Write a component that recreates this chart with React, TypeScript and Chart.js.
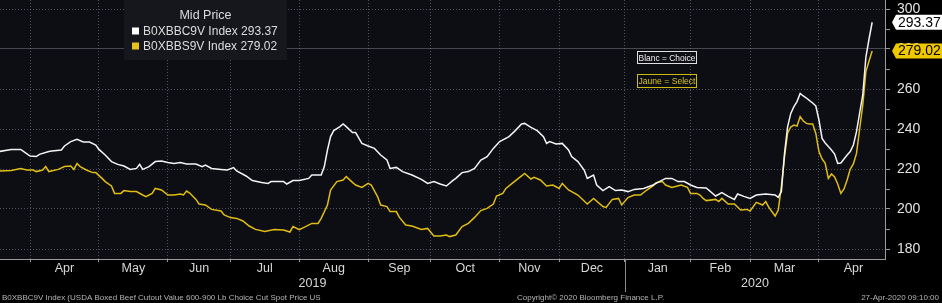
import React, { useEffect, useRef } from 'react';
import { Chart, registerables } from 'chart.js';

Chart.register(...registerables);

// ---------- calendar (trading days; USDA does not report on these holidays) ----------
const holidays = [
  '2019-05-27', '2019-07-04', '2019-09-02', '2019-10-14', '2019-11-11',
  '2019-11-28', '2019-12-25', '2020-01-01', '2020-01-20', '2020-02-17',
];
const monthStarts = [
  '2019-04-01', '2019-05-01', '2019-06-01', '2019-07-01', '2019-08-01', '2019-09-01',
  '2019-10-01', '2019-11-01', '2019-12-01', '2020-01-01', '2020-02-01', '2020-03-01', '2020-04-01',
];
const monthLabels = ['Apr', 'May', 'Jun', 'Jul', 'Aug', 'Sep', 'Oct', 'Nov', 'Dec', 'Jan', 'Feb', 'Mar', 'Apr'];
const axisEndDate = '2020-05-01';
const yearLabels = ['2019', '2020'];
const yearStart2020 = '2020-01-01';
const yTicks = [180, 190, 200, 210, 220, 230, 240, 250, 260, 270, 280, 290, 300];

// ---------- series: Choice (white) ----------
const choiceDates = [
  '2019-03-18', '2019-03-22', '2019-03-27', '2019-03-28', '2019-04-01', '2019-04-03', '2019-04-04', '2019-04-09',
  '2019-04-10', '2019-04-15', '2019-04-16', '2019-04-18', '2019-04-22', '2019-04-24', '2019-04-26', '2019-04-30',
  '2019-05-01', '2019-05-03', '2019-05-07', '2019-05-09', '2019-05-13', '2019-05-15', '2019-05-17', '2019-05-20',
  '2019-05-21', '2019-05-23', '2019-05-28', '2019-05-30', '2019-06-03', '2019-06-05', '2019-06-07', '2019-06-11',
  '2019-06-14', '2019-06-18', '2019-06-19', '2019-06-21', '2019-06-26', '2019-06-28', '2019-07-02', '2019-07-03',
  '2019-07-09', '2019-07-11', '2019-07-16', '2019-07-18', '2019-07-19', '2019-07-25', '2019-07-26', '2019-07-30',
  '2019-08-01', '2019-08-06', '2019-08-07', '2019-08-12', '2019-08-13', '2019-08-14', '2019-08-15', '2019-08-16',
  '2019-08-20', '2019-08-21', '2019-08-22', '2019-08-26', '2019-08-27', '2019-08-29', '2019-09-03', '2019-09-05',
  '2019-09-09', '2019-09-11', '2019-09-12', '2019-09-16', '2019-09-18', '2019-09-23', '2019-09-26', '2019-09-30',
  '2019-10-02', '2019-10-04', '2019-10-08', '2019-10-10', '2019-10-11', '2019-10-16', '2019-10-18', '2019-10-22',
  '2019-10-24', '2019-10-28', '2019-10-30', '2019-11-01', '2019-11-06', '2019-11-08', '2019-11-13', '2019-11-14',
  '2019-11-18', '2019-11-20', '2019-11-22', '2019-11-25', '2019-11-26', '2019-11-29', '2019-12-03', '2019-12-05',
  '2019-12-06', '2019-12-10', '2019-12-12', '2019-12-13', '2019-12-17', '2019-12-18', '2019-12-20', '2019-12-24',
  '2019-12-27', '2019-12-31', '2020-01-03', '2020-01-07', '2020-01-10', '2020-01-15', '2020-01-17', '2020-01-22',
  '2020-01-24', '2020-01-28', '2020-01-30', '2020-02-03', '2020-02-05', '2020-02-10', '2020-02-13', '2020-02-18',
  '2020-02-20', '2020-02-24', '2020-02-25', '2020-02-27', '2020-03-02', '2020-03-04', '2020-03-09', '2020-03-12',
  '2020-03-13', '2020-03-16', '2020-03-17', '2020-03-18', '2020-03-19', '2020-03-20', '2020-03-23', '2020-03-24',
  '2020-03-25', '2020-03-26', '2020-03-27', '2020-03-30', '2020-03-31', '2020-04-01', '2020-04-02', '2020-04-03',
  '2020-04-06', '2020-04-07', '2020-04-08', '2020-04-09', '2020-04-10', '2020-04-13', '2020-04-14', '2020-04-15',
  '2020-04-16', '2020-04-17', '2020-04-20', '2020-04-21', '2020-04-22', '2020-04-23', '2020-04-24',
];
const choiceValues = [
  228.7, 229.8, 229.8, 228.7, 226.5, 226.2, 227.3, 228.7,
  229.0, 229.5, 231.5, 233.7, 234.8, 233.5, 233.5, 232.0,
  229.8, 227.0, 223.7, 222.3, 221.5, 219.8, 220.3, 222.3,
  219.8, 221.2, 223.7, 224.0, 223.2, 222.8, 223.2, 222.5,
  222.5, 221.2, 222.0, 220.3, 219.8, 219.5, 220.7, 219.0,
  216.5, 214.2, 213.3, 212.8, 213.7, 213.7, 212.5, 214.2,
  214.2, 215.3, 217.0, 217.0, 221.2, 229.5, 236.2, 239.2,
  241.2, 242.5, 241.2, 238.2, 238.2, 232.8, 231.5, 230.3,
  227.0, 224.5, 220.3, 220.8, 218.7, 217.0, 214.8, 212.8,
  213.7, 212.5, 211.5, 214.2, 215.3, 218.2, 218.7, 220.3,
  224.5, 226.2, 230.3, 233.7, 236.2, 239.2, 242.5, 242.8,
  240.8, 239.2, 236.2, 232.8, 233.7, 232.5, 232.8, 229.5,
  226.2, 223.7, 219.5, 215.3, 217.0, 212.0, 209.2, 211.2,
  209.2, 209.5, 208.7, 209.8, 210.3, 212.0, 213.7, 215.3,
  215.3, 213.7, 213.7, 212.0, 210.8, 210.5, 206.5, 208.2,
  206.3, 204.8, 207.5, 206.3, 205.3, 207.0, 207.5, 207.0,
  205.8, 208.7, 227.8, 241.2, 247.8, 251.2, 253.7, 257.8,
  256.5, 255.5, 254.2, 253.0, 251.5, 244.5, 235.3, 233.0,
  231.2, 229.5, 227.5, 222.8, 223.0, 225.0, 227.0, 228.7,
  232.0, 238.7, 248.0, 257.0, 276.0, 285.0, 293.37,
];

// ---------- series: Select (yellow) ----------
const selectDates = [
  '2019-03-18', '2019-03-22', '2019-03-27', '2019-03-29', '2019-04-02', '2019-04-03', '2019-04-05', '2019-04-08',
  '2019-04-09', '2019-04-12', '2019-04-16', '2019-04-18', '2019-04-19', '2019-04-22', '2019-04-23', '2019-04-25',
  '2019-04-29', '2019-04-30', '2019-05-02', '2019-05-03', '2019-05-07', '2019-05-08', '2019-05-10', '2019-05-13',
  '2019-05-15', '2019-05-17', '2019-05-21', '2019-05-22', '2019-05-24', '2019-05-28', '2019-05-30', '2019-06-03',
  '2019-06-05', '2019-06-07', '2019-06-10', '2019-06-11', '2019-06-12', '2019-06-14', '2019-06-17', '2019-06-19',
  '2019-06-21', '2019-06-26', '2019-06-27', '2019-07-01', '2019-07-03', '2019-07-08', '2019-07-10', '2019-07-12',
  '2019-07-17', '2019-07-22', '2019-07-25', '2019-07-29', '2019-07-30', '2019-08-01', '2019-08-05', '2019-08-07',
  '2019-08-09', '2019-08-12', '2019-08-14', '2019-08-15', '2019-08-19', '2019-08-21', '2019-08-22', '2019-08-26',
  '2019-08-27', '2019-08-29', '2019-09-03', '2019-09-04', '2019-09-06', '2019-09-09', '2019-09-11', '2019-09-12',
  '2019-09-16', '2019-09-17', '2019-09-19', '2019-09-23', '2019-09-26', '2019-09-30', '2019-10-02', '2019-10-04',
  '2019-10-08', '2019-10-09', '2019-10-11', '2019-10-16', '2019-10-18', '2019-10-22', '2019-10-24', '2019-10-28',
  '2019-10-30', '2019-10-31', '2019-11-04', '2019-11-05', '2019-11-07', '2019-11-12', '2019-11-14', '2019-11-18',
  '2019-11-19', '2019-11-21', '2019-11-25', '2019-11-27', '2019-12-02', '2019-12-03', '2019-12-05', '2019-12-10',
  '2019-12-13', '2019-12-17', '2019-12-20', '2019-12-23', '2019-12-26', '2019-12-30', '2019-12-31', '2020-01-03',
  '2020-01-07', '2020-01-09', '2020-01-13', '2020-01-15', '2020-01-16', '2020-01-21', '2020-01-22', '2020-01-24',
  '2020-01-29', '2020-01-31', '2020-02-03', '2020-02-05', '2020-02-06', '2020-02-07', '2020-02-10', '2020-02-13',
  '2020-02-14', '2020-02-18', '2020-02-20', '2020-02-24', '2020-02-26', '2020-02-28', '2020-03-02', '2020-03-04',
  '2020-03-06', '2020-03-09', '2020-03-10', '2020-03-12', '2020-03-13', '2020-03-16', '2020-03-17', '2020-03-18',
  '2020-03-19', '2020-03-20', '2020-03-23', '2020-03-24', '2020-03-25', '2020-03-26', '2020-03-27', '2020-03-30',
  '2020-03-31', '2020-04-01', '2020-04-02', '2020-04-03', '2020-04-06', '2020-04-07', '2020-04-08', '2020-04-09',
  '2020-04-10', '2020-04-13', '2020-04-14', '2020-04-15', '2020-04-16', '2020-04-17', '2020-04-20', '2020-04-21',
  '2020-04-22', '2020-04-23', '2020-04-24',
];
const selectValues = [
  219.0, 219.2, 220.3, 219.5, 219.5, 218.7, 219.5, 221.2,
  218.7, 219.8, 221.2, 221.5, 219.8, 222.8, 221.2, 219.5,
  218.2, 218.2, 215.3, 213.7, 211.5, 207.8, 207.8, 209.2,
  208.7, 208.7, 207.0, 206.2, 207.8, 210.3, 209.5, 207.0,
  207.0, 207.5, 207.0, 209.0, 208.0, 204.8, 202.5, 202.0,
  199.8, 199.0, 197.0, 195.7, 195.3, 194.0, 191.5, 189.8,
  188.7, 189.8, 189.5, 188.5, 191.2, 189.7, 191.2, 192.8,
  192.8, 195.3, 202.0, 209.5, 213.7, 214.5, 216.2, 213.3,
  212.0, 210.8, 212.8, 212.0, 206.2, 202.0, 201.2, 198.7,
  198.7, 195.8, 192.0, 191.5, 189.8, 190.3, 186.5, 186.5,
  187.0, 186.2, 187.0, 191.2, 192.8, 195.8, 199.2, 200.3,
  202.5, 206.5, 207.8, 210.3, 212.8, 215.3, 217.8, 215.0,
  215.8, 214.5, 211.5, 212.0, 210.3, 212.8, 209.5, 207.0,
  202.5, 205.3, 201.2, 200.8, 204.8, 205.3, 202.0, 205.7,
  207.0, 207.0, 209.5, 211.5, 213.2, 213.7, 212.0, 210.8,
  212.0, 210.8, 207.8, 207.8, 207.0, 205.3, 204.2, 204.8,
  203.7, 205.3, 202.5, 202.5, 199.5, 199.8, 199.0, 203.3,
  202.0, 203.7, 200.8, 196.5, 199.5, 211.2, 226.0, 238.0,
  241.0, 242.0, 241.5, 246.2, 244.0, 242.8, 242.5, 242.5,
  237.8, 228.7, 225.0, 222.8, 215.3, 217.5, 216.0, 212.5,
  207.8, 210.0, 214.5, 220.0, 222.5, 227.8, 240.0, 252.0,
  268.7, 274.0, 279.02,
];

// ---------- helpers ----------
function buildTradingDays(start: string, end: string): string[] {
  const out: string[] = [];
  const d = new Date(start + 'T00:00:00Z');
  const e = new Date(end + 'T00:00:00Z');
  while (d <= e) {
    const wd = d.getUTCDay();
    const key = d.toISOString().slice(0, 10);
    if (wd !== 0 && wd !== 6 && !holidays.includes(key)) out.push(key);
    d.setUTCDate(d.getUTCDate() + 1);
  }
  return out;
}
const tradingDays = buildTradingDays('2019-03-01', '2020-05-31');
const baseIdx = tradingDays.indexOf('2019-04-01');
function tIndex(date: string): number {
  const i = tradingDays.findIndex((k) => k >= date);
  return i - baseIdx;
}

const X_MIN = -9.6;
const X_MAX = 273.1;
const Y_MIN = 175;
const Y_MAX = 304.5;

const WHITE = '#f4f4f4';
const YELLOW = '#e0bd12';
const FONT = '"Liberation Sans", Arial, sans-serif';

const overlayPlugin = {
  id: 'bbgOverlay',
  beforeDraw(chart: any) {
    const { ctx, chartArea: a, width, height } = chart;
    ctx.save();
    ctx.fillStyle = '#000000';
    ctx.fillRect(0, 0, width, height);
    ctx.fillStyle = '#0d0d14';
    ctx.fillRect(a.left, a.top, a.right - a.left, a.bottom - a.top);
    ctx.restore();
  },
  afterDraw(chart: any) {
    const { ctx, chartArea: a, scales, width, height } = chart;
    const xs = scales.x;
    const ys = scales.y;
    ctx.save();

    // month labels
    ctx.font = `12.5px ${FONT}`;
    ctx.fillStyle = '#d8d8d8';
    ctx.textAlign = 'center';
    ctx.textBaseline = 'middle';
    monthLabels.forEach((m, i) => {
      const s = tIndex(monthStarts[i]);
      const e = tIndex(i + 1 < monthStarts.length ? monthStarts[i + 1] : axisEndDate);
      ctx.fillText(m, xs.getPixelForValue((s + e) / 2), a.bottom + 10);
    });
    // year labels + separator
    const jan = tIndex(yearStart2020);
    ctx.fillText(yearLabels[0], xs.getPixelForValue((X_MIN + jan) / 2), a.bottom + 25);
    ctx.fillText(yearLabels[1], xs.getPixelForValue((jan + X_MAX) / 2), a.bottom + 25);
    const jx = Math.round(xs.getPixelForValue(jan)) + 0.5;
    ctx.strokeStyle = '#8a8a8a';
    ctx.lineWidth = 1;
    ctx.beginPath();
    ctx.moveTo(jx, a.bottom);
    ctx.lineTo(jx, a.bottom + 33);
    ctx.stroke();

    // footer
    ctx.font = `8px ${FONT}`;
    ctx.fillStyle = '#b4b4b4';
    ctx.textAlign = 'left';
    ctx.fillText('B0XBBC9V Index (USDA Boxed Beef Cutout Value 600-900 Lb Choice Cut Spot Price US', 2, height - 5);
    ctx.fillText('Copyright\u00A9 2020 Bloomberg Finance L.P.', 517, height - 5);
    ctx.textAlign = 'right';
    ctx.fillText('27-Apr-2020 09:10:00', width - 3, height - 5);

    // legend box
    const lastC = choiceValues[choiceValues.length - 1];
    const lastS = selectValues[selectValues.length - 1];
    ctx.fillStyle = '#16161d';
    ctx.fillRect(124, 0, 163, 60);
    ctx.fillStyle = '#dcdcdc';
    ctx.font = `12.5px ${FONT}`;
    ctx.textAlign = 'center';
    ctx.fillText('Mid Price', 205.5, 16);
    ctx.textAlign = 'left';
    ctx.font = `12px ${FONT}`;
    ctx.fillStyle = '#ffffff';
    ctx.fillRect(132, 27.5, 7, 7);
    ctx.fillStyle = '#e8c21c';
    ctx.fillRect(132, 42.5, 7, 7);
    ctx.fillStyle = '#dcdcdc';
    ctx.fillText(`B0XBBC9V Index ${lastC.toFixed(2)}`, 143, 31.5);
    ctx.fillText(`B0XBBS9V Index ${lastS.toFixed(2)}`, 143, 46.5);

    // annotations
    ctx.font = `9.5px ${FONT}`;
    ctx.textAlign = 'center';
    ctx.lineWidth = 1;
    ctx.strokeStyle = '#e0e0e0';
    ctx.strokeRect(637.5, 51.5, 59, 12);
    ctx.fillStyle = '#f0f0f0';
    ctx.fillText('Blanc = Choice', 667, 58, 57);
    ctx.strokeStyle = '#cdbb12';
    ctx.strokeRect(637.5, 74.5, 59, 13);
    ctx.fillStyle = '#d8c414';
    ctx.fillText('Jaune = Select', 667, 81.5, 57);

    // value tags on the right axis
    const tag = (v: number, bg: string) => {
      const py = ys.getPixelForValue(v);
      ctx.fillStyle = bg;
      ctx.beginPath();
      ctx.moveTo(a.right + 7, py);
      ctx.lineTo(a.right + 11, py - 7.5);
      ctx.lineTo(width, py - 7.5);
      ctx.lineTo(width, py + 7.5);
      ctx.lineTo(a.right + 11, py + 7.5);
      ctx.closePath();
      ctx.fill();
      ctx.fillStyle = '#000000';
      ctx.font = `14px ${FONT}`;
      ctx.textAlign = 'left';
      ctx.textBaseline = 'middle';
      ctx.fillText(v.toFixed(2), a.right + 13, py + 0.5);
    };
    tag(lastC, '#ffffff');
    tag(lastS, '#f0c800');

    ctx.restore();
  },
};

export default function App() {
  const ref = useRef<HTMLCanvasElement | null>(null);

  useEffect(() => {
    if (!ref.current) return;
    const chart = new Chart(ref.current, {
      type: 'line',
      data: {
        datasets: [
          {
            label: 'B0XBBC9V Index',
            data: choiceDates.map((d, i) => ({ x: tIndex(d), y: choiceValues[i] })),
            borderColor: WHITE,
            borderWidth: 1.5,
            pointRadius: 0,
            tension: 0,
          },
          {
            label: 'B0XBBS9V Index',
            data: selectDates.map((d, i) => ({ x: tIndex(d), y: selectValues[i] })),
            borderColor: YELLOW,
            borderWidth: 1.5,
            pointRadius: 0,
            tension: 0,
          },
        ],
      },
      options: {
        animation: false,
        responsive: false,
        maintainAspectRatio: false,
        layout: { padding: 0 },
        plugins: { legend: { display: false }, tooltip: { enabled: false } },
        scales: {
          x: {
            type: 'linear',
            position: 'bottom',
            min: X_MIN,
            max: X_MAX,
            afterBuildTicks: (s: any) => {
              s.ticks = monthStarts.map((m) => ({ value: tIndex(m) }));
            },
            afterFit: (s: any) => {
              s.height = 44;
              s.paddingLeft = 0;
              s.paddingRight = 0;
            },
            ticks: { display: false },
            grid: {
              color: 'rgba(140,140,150,0.55)',
              lineWidth: 1,
              drawTicks: true,
              tickLength: 3,
              tickColor: '#9a9a9a',
            },
            border: { display: true, color: '#9a9a9a', width: 1, dash: [1, 2] },
          },
          y: {
            type: 'linear',
            position: 'right',
            min: Y_MIN,
            max: Y_MAX,
            afterBuildTicks: (s: any) => {
              s.ticks = yTicks.map((v) => ({ value: v }));
            },
            afterFit: (s: any) => {
              s.width = 57;
              s.paddingTop = 0;
              s.paddingBottom = 0;
            },
            ticks: {
              callback: (v: any) => (Number(v) % 20 === 0 ? String(v) : ''),
              color: '#e2e2e2',
              font: { size: 14, family: '"Liberation Sans", Arial, sans-serif' },
              padding: 7,
              autoSkip: false,
            },
            grid: {
              color: (c: any) =>
                c.tick && c.tick.value % 20 === 0
                  ? c.tick.value === 280
                    ? 'rgba(130,130,140,0.5)'
                    : 'rgba(140,140,150,0.55)'
                  : 'rgba(0,0,0,0)',
              lineWidth: 1,
              drawTicks: true,
              tickLength: 5,
              tickColor: '#9a9a9a',
            },
            border: {
              display: true,
              color: '#9a9a9a',
              width: 1,
              dash: (c: any) => (c.tick && c.tick.value === 280 ? [] : [1, 2]),
            },
          },
        },
      },
      plugins: [overlayPlugin],
    } as any);
    return () => chart.destroy();
  }, []);

  return (
    <div style={{ position: 'absolute', left: 0, top: 0, width: 942, height: 303, background: '#000' }}>
      <canvas ref={ref} width={942} height={303} style={{ display: 'block', width: 942, height: 303 }} />
    </div>
  );
}
